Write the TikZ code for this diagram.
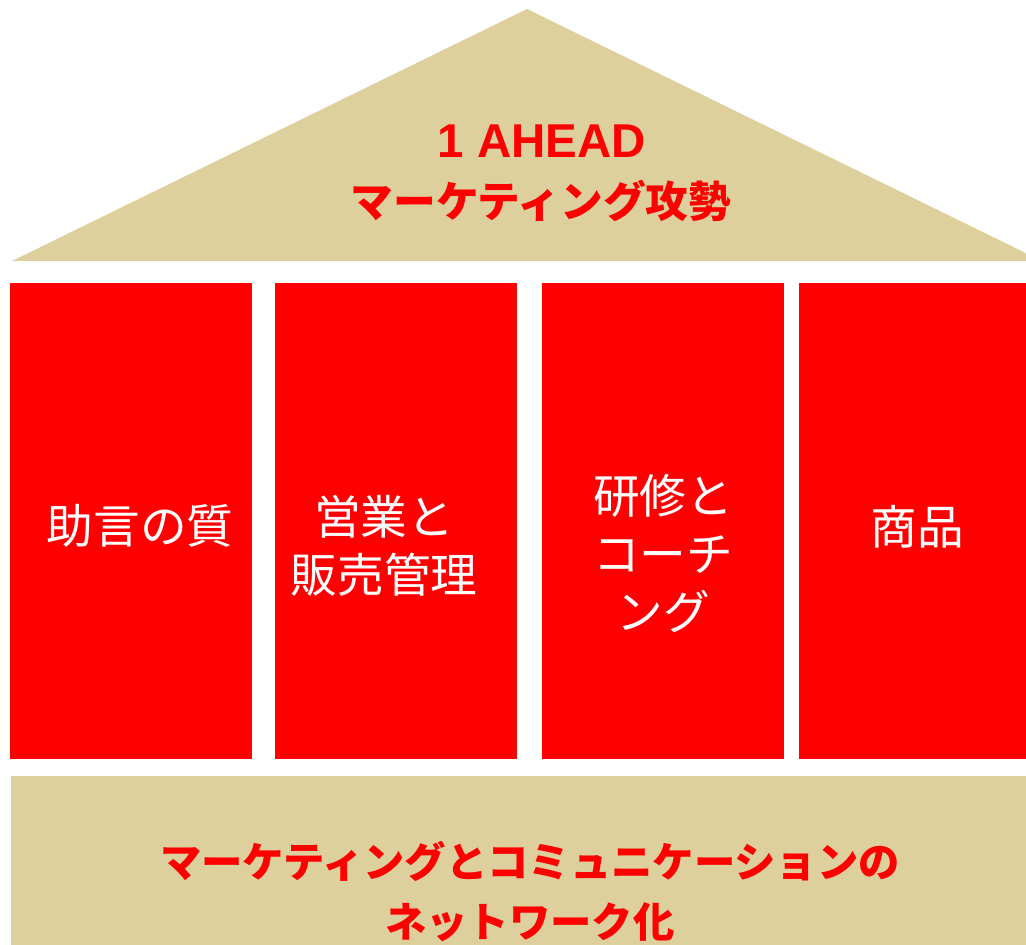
\documentclass[tikz,border=0pt]{standalone}
\usepackage{fontspec}
\setmainfont{Liberation Sans}
\newfontfamily\jpfont{Noto Sans CJK JP}
\usepackage{tikz}
\definecolor{roofTan}{RGB}{221,208,157}
\definecolor{pillarRed}{RGB}{255,0,0}
\tikzset{
  pillar/.style={fill=pillarRed, draw=none, inner sep=0pt, minimum width=181.5pt, minimum height=357pt},
  pillarText/.style={text=white, align=center, inner sep=0pt, font=\jpfont\fontsize{35}{43.5}\selectfont},
  redText/.style={text=pillarRed, align=center, inner sep=0pt, font=\jpfont\bfseries\fontsize{32}{45}\selectfont}
}

\begin{document}
\begin{tikzpicture}[x=0.75pt,y=-0.75pt]
			\useasboundingbox (0,0) rectangle (1026,945);
			\clip (0,0) rectangle (1026,945);
			% roof
			\fill[roofTan] (12,261) -- (527,9) -- (1042,261) -- cycle;
			\node[redText, font=\bfseries\fontsize{35.6}{40}\selectfont] (brand) at (542,141) {1 AHEAD};
			\node[redText] (attack) at (541,201) {マーケティング攻勢};
			% pillars
			\node[pillar] (advice) at (131,521) {};
			\node[pillar] (sales) at (396,521) {};
			\node[pillar] (training) at (663,521) {};
			\node[pillar] (product) at (920,521) {};
			\node[pillarText] (adviceText) at (140,526) {助言の質};
			\node[pillarText] (salesText) at (384,546) {営業と\\販売管理};
			\node[pillarText] (trainingText) at (663,553) {研修と\\コーチ\\ング};
			\node[pillarText] (productText) at (917,527) {商品};
			% base
			\fill[roofTan] (11,776) rectangle (1042,960);
			\node[redText, font=\jpfont\bfseries\fontsize{31}{45}\selectfont] (network) at (530,891) {マーケティングとコミュニケーションの\\ネットワーク化};
\end{tikzpicture}
\end{document}
